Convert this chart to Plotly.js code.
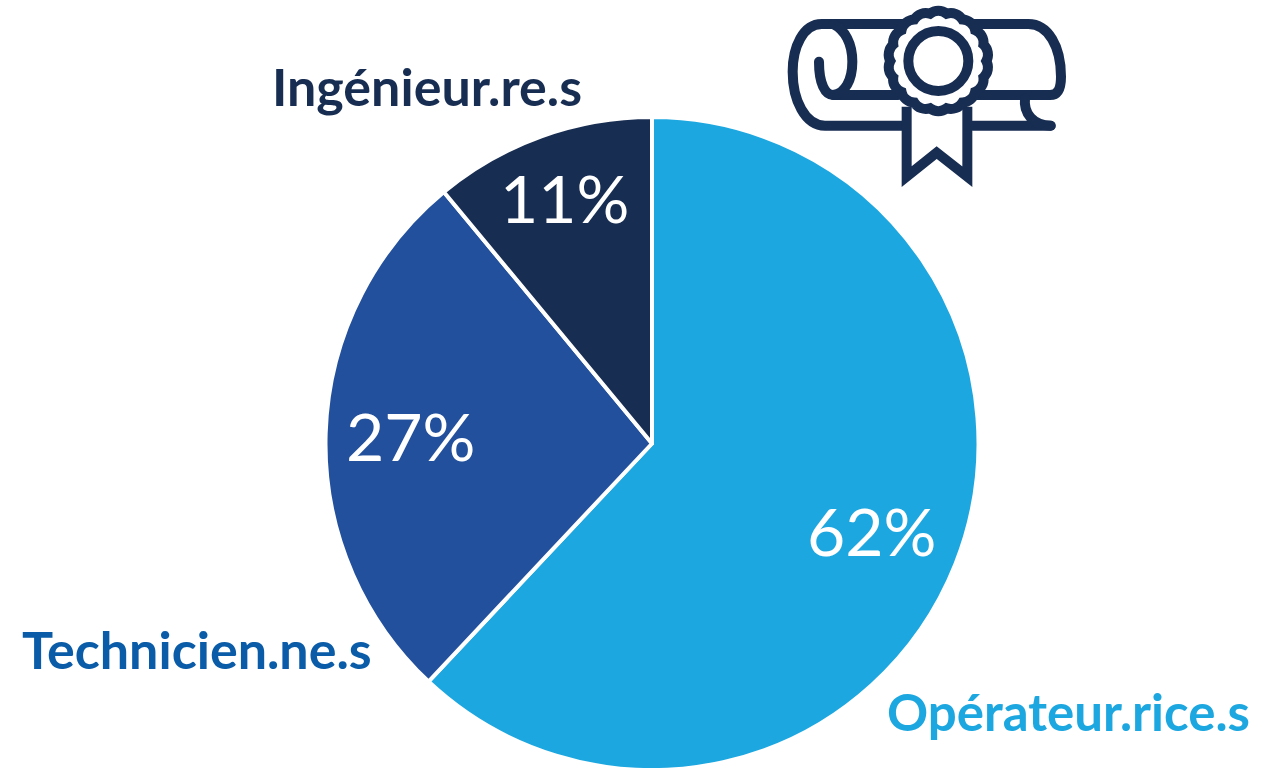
<!DOCTYPE html>
<html>
<head>
<meta charset="utf-8">
<script src="https://cdn.plot.ly/plotly-3.0.0.min.js"></script>
<style>html,body{margin:0;padding:0;background:#fff;overflow:hidden}#chart{width:1270px;height:772px}</style>
</head>
<body>
<div id="chart"></div>
<script>
const categories = ['Opérateur.rice.s', 'Technicien.ne.s', 'Ingénieur.re.s'];
const shares = [62, 27, 11];
const sliceColors = ['#1DA7E0', '#22509C', '#182D52'];
const labelColors = ['#1DA7E0', '#0A5CA8', '#182D52'];
const W = 1270, H = 772;
const px = x => x / W, py = y => 1 - y / H;
const labelPos = [[1068, 711], [197, 649], [427, 86]];
const labelSizes = [51, 52, 52];
const pctPos = [[871, 530], [410, 435], [564, 197]];
const LABEL_FONT = 'Lato, "Noto Sans", sans-serif';

function icon() {
  const c = '#182D52';
  let d = '';
  const n = 18, cx = 505, cy = 183, r = 144;
  for (let i = 0; i <= n; i++) {
    const a = i * 2 * Math.PI / n;
    const x = (cx + r * Math.cos(a)).toFixed(1), y = (cy + r * Math.sin(a)).toFixed(1);
    d += i === 0 ? `M${x} ${y}` : `A40 40 0 0 1 ${x} ${y}`;
  }
  d += 'Z';
  const svg = `<svg xmlns="http://www.w3.org/2000/svg" width="930" height="600" viewBox="0 0 930 600">
<g fill="none" stroke="${c}" stroke-width="30" stroke-linecap="round" stroke-linejoin="round">
<path d="M400 72H155C100 72 68 140 68 215C68 300 105 377 165 377H395"/>
<path d="M610 72H775C835 72 873 140 873 230C873 265 865 285 840 285H610"/>
<path d="M385 285H190C165 285 147 250 147 185"/>
<path d="M190 72C225 90 247 130 247 185C247 240 225 280 190 285"/>
<path d="M608 377H842"/>
<path d="M765 295C760 340 790 377 842 377"/>
</g>
<path d="M410 320V530L500 458L592 530V320" fill="#fff" stroke="${c}" stroke-width="30" stroke-miterlimit="10"/>
<path d="${d}" fill="#fff" stroke="${c}" stroke-width="30"/>
<circle cx="${cx}" cy="${cy}" r="90" fill="#fff" stroke="${c}" stroke-width="30"/>
</svg>`;
  return 'data:image/svg+xml;charset=utf-8,' + encodeURIComponent(svg);
}

const annotations = [];
categories.forEach((name, i) => {
  annotations.push({
    text: name, x: px(labelPos[i][0]), y: py(labelPos[i][1]), xref: 'paper', yref: 'paper',
    xanchor: 'center', yanchor: 'middle', showarrow: false,
    font: {family: LABEL_FONT, size: labelSizes[i], color: labelColors[i], weight: 700}
  });
  annotations.push({
    text: shares[i] + '%', x: px(pctPos[i][0]), y: py(pctPos[i][1]), xref: 'paper', yref: 'paper',
    xanchor: 'center', yanchor: 'middle', showarrow: false,
    font: {family: 'Lato, "Noto Sans", sans-serif', size: 66, color: '#FFFFFF', weight: 400}
  });
});

Plotly.newPlot('chart', [{
  type: 'pie',
  labels: categories,
  values: shares,
  sort: false,
  direction: 'clockwise',
  rotation: 0,
  textinfo: 'none',
  hoverinfo: 'label+percent',
  showlegend: false,
  marker: {colors: sliceColors, line: {color: '#FFFFFF', width: 4}},
  domain: {x: [px(652 - 326.5), px(652 + 326.5)], y: [py(443.5 + 326.5), py(443.5 - 326.5)]}
}], {
  width: W, height: H,
  margin: {l: 0, r: 0, t: 0, b: 0},
  paper_bgcolor: '#FFFFFF',
  showlegend: false,
  annotations,
  images: [{
    source: icon(), xref: 'paper', yref: 'paper',
    x: px(770), y: py(0), sizex: 310 / W, sizey: 200 / H,
    xanchor: 'left', yanchor: 'top', sizing: 'stretch', layer: 'above'
  }]
}, {displayModeBar: false});
</script>
</body>
</html>
